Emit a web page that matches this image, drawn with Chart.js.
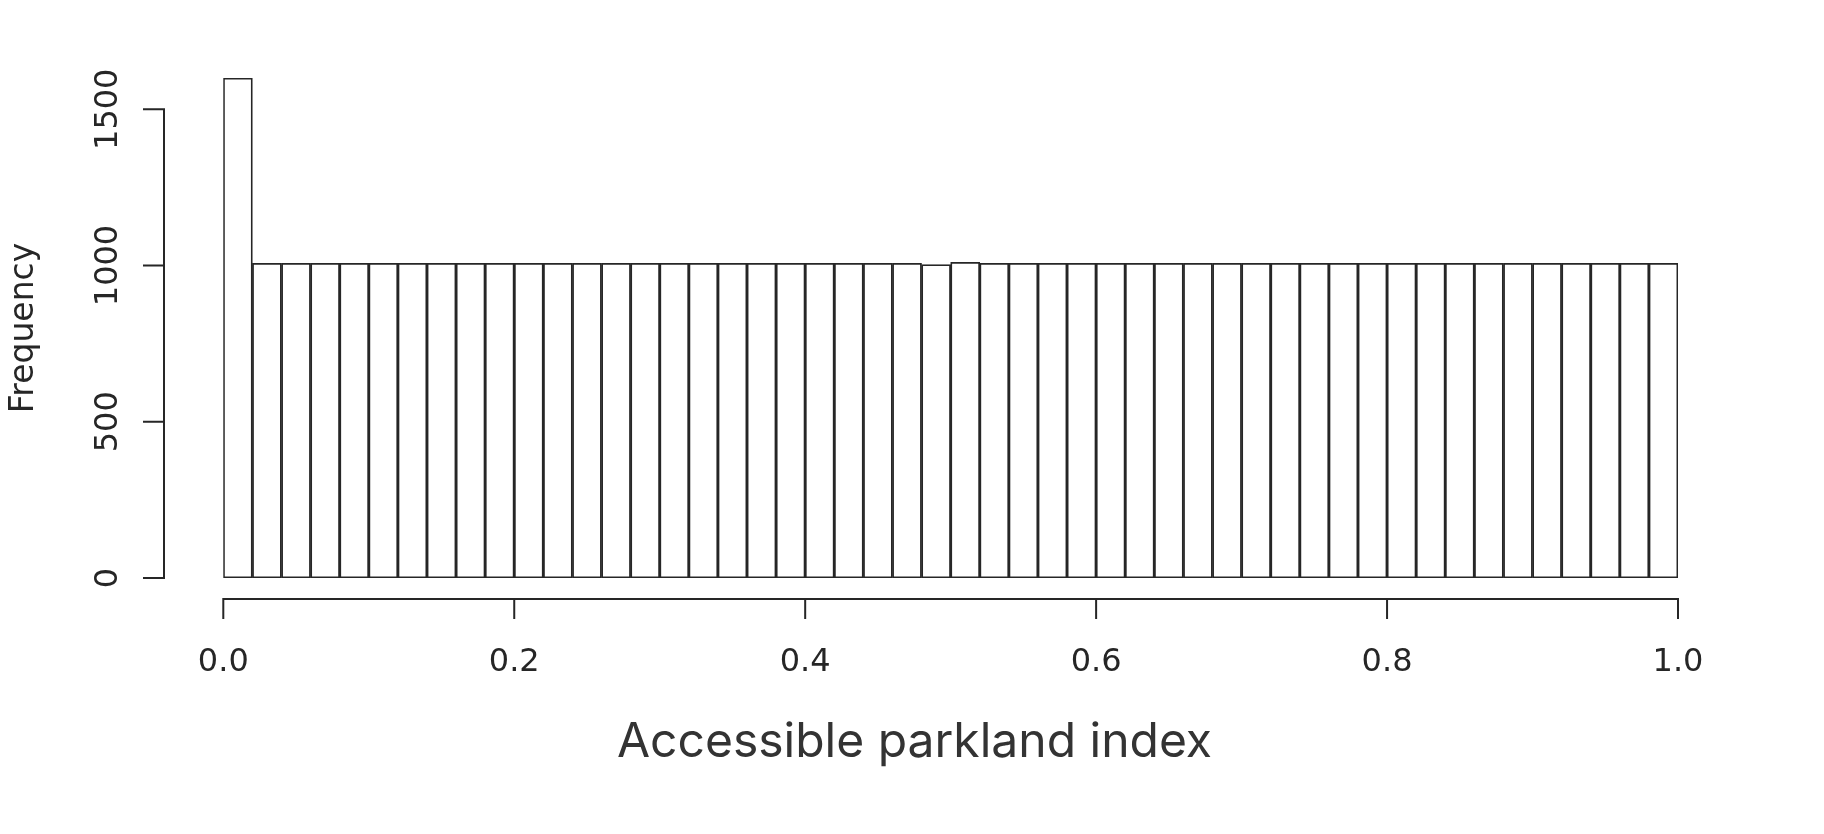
<!DOCTYPE html>
<html>
<head>
<meta charset="utf-8">
<script src="https://cdn.jsdelivr.net/npm/chart.js@4.4.1/dist/chart.umd.min.js"></script>
<style>
  html, body { margin: 0; padding: 0; background: #ffffff; }
  canvas { display: block; }
</style>
</head>
<body>
<canvas id="c" width="1824" height="834"></canvas>
<script>
// ---- data ----
const binMids = [0.01, 0.03, 0.05, 0.07, 0.09, 0.11, 0.13, 0.15, 0.17, 0.19,
                 0.21, 0.23, 0.25, 0.27, 0.29, 0.31, 0.33, 0.35, 0.37, 0.39,
                 0.41, 0.43, 0.45, 0.47, 0.49, 0.51, 0.53, 0.55, 0.57, 0.59,
                 0.61, 0.63, 0.65, 0.67, 0.69, 0.71, 0.73, 0.75, 0.77, 0.79,
                 0.81, 0.83, 0.85, 0.87, 0.89, 0.91, 0.93, 0.95, 0.97, 0.99];
const frequency = [1600, 1007, 1007, 1007, 1007, 1007, 1007, 1007, 1007, 1007,
                   1007, 1007, 1007, 1007, 1007, 1007, 1007, 1007, 1007, 1007,
                   1007, 1007, 1007, 1007, 1003, 1010, 1007, 1007, 1007, 1007,
                   1007, 1007, 1007, 1007, 1007, 1007, 1007, 1007, 1007, 1007,
                   1007, 1007, 1007, 1007, 1007, 1007, 1007, 1007, 1007, 1007];
const xTicks = [0.0, 0.2, 0.4, 0.6, 0.8, 1.0];
const yTicks = [0, 500, 1000, 1500];
const xTitle = 'Accessible parkland index';
const yTitle = 'Frequency';

const ink = '#262626';
const tickFont = { family: "'DejaVu Sans', sans-serif", size: 32 };

// R-style detached axes drawn through the chart's scales
const rAxes = {
  id: 'rAxes',
  afterDatasetsDraw(chart) {
    const { ctx, chartArea } = chart;
    const xs = chart.scales.x, ys = chart.scales.y;
    ctx.save();
    ctx.strokeStyle = ink;
    ctx.lineWidth = 2;
    ctx.lineCap = 'square';
    // y axis
    const ax = chartArea.left - 59.3;
    const yTop = ys.getPixelForValue(yTicks[yTicks.length - 1]);
    const yBot = ys.getPixelForValue(yTicks[0]);
    ctx.beginPath();
    ctx.moveTo(ax, yTop); ctx.lineTo(ax, yBot);
    yTicks.forEach(v => {
      const p = ys.getPixelForValue(v);
      ctx.moveTo(ax, p); ctx.lineTo(ax - 20, p);
    });
    ctx.stroke();
    // x axis
    const ay = chartArea.bottom + 21;
    const xL = xs.getPixelForValue(xTicks[0]);
    const xR = xs.getPixelForValue(xTicks[xTicks.length - 1]);
    ctx.beginPath();
    ctx.moveTo(xL, ay); ctx.lineTo(xR, ay);
    xTicks.forEach(v => {
      const p = xs.getPixelForValue(v);
      ctx.moveTo(p, ay); ctx.lineTo(p, ay + 19);
    });
    ctx.stroke();
    ctx.restore();
  }
};

new Chart(document.getElementById('c'), {
  type: 'bar',
  data: {
    datasets: [{
      data: binMids.map((m, i) => ({ x: m, y: frequency[i] })),
      backgroundColor: '#ffffff',
      borderColor: ink,
      borderWidth: 1.8,
      borderSkipped: false,
      barPercentage: 1.0,
      categoryPercentage: 1.0
    }]
  },
  options: {
    responsive: false,
    animation: false,
    events: [],
    layout: { padding: { left: 5, right: 0, top: 78, bottom: 0 } },
    plugins: {
      legend: { display: false },
      tooltip: { enabled: false },
      title: {
        display: true,
        position: 'bottom',
        text: xTitle,
        color: '#333333',
        font: { family: "Inter, 'Noto Sans', sans-serif", size: 48, weight: 'normal' },
        padding: { top: 0, bottom: 62.6 }
      }
    },
    scales: {
      x: {
        type: 'linear',
        offset: false,
        min: 0,
        max: 1,
        grid: { display: false, drawTicks: false },
        border: { display: false },
        afterBuildTicks(scale) { scale.ticks = xTicks.map(v => ({ value: v })); },
        afterFit(scale) { scale.height = 135.8; },
        ticks: {
          color: ink,
          font: tickFont,
          padding: 65.5,
          maxRotation: 0,
          autoSkip: false,
          callback: v => Number(v).toFixed(1)
        }
      },
      y: {
        type: 'linear',
        position: 'left',
        min: 0,
        max: 1600,
        grid: { display: false, drawTicks: false },
        border: { display: false },
        afterBuildTicks(scale) { scale.ticks = yTicks.map(v => ({ value: v })); },
        afterFit(scale) {
          scale.width = 218.3;
          scale.paddingTop = 0;
          scale.paddingBottom = 0;
        },
        ticks: {
          color: ink,
          font: tickFont,
          minRotation: 90,
          maxRotation: 90,
          crossAlign: 'center',
          padding: 74,
          autoSkip: false,
          callback: v => String(v)
        },
        title: {
          display: true,
          text: yTitle,
          color: ink,
          font: { family: "'DejaVu Sans', sans-serif", size: 33 },
          padding: { top: 0, bottom: 0 }
        }
      },
      yRight: {
        type: 'linear',
        position: 'right',
        display: true,
        grid: { display: false, drawTicks: false },
        border: { display: false },
        ticks: { display: false },
        afterFit(scale) { scale.width = 146; }
      }
    }
  },
  plugins: [rAxes]
});
</script>
</body>
</html>
